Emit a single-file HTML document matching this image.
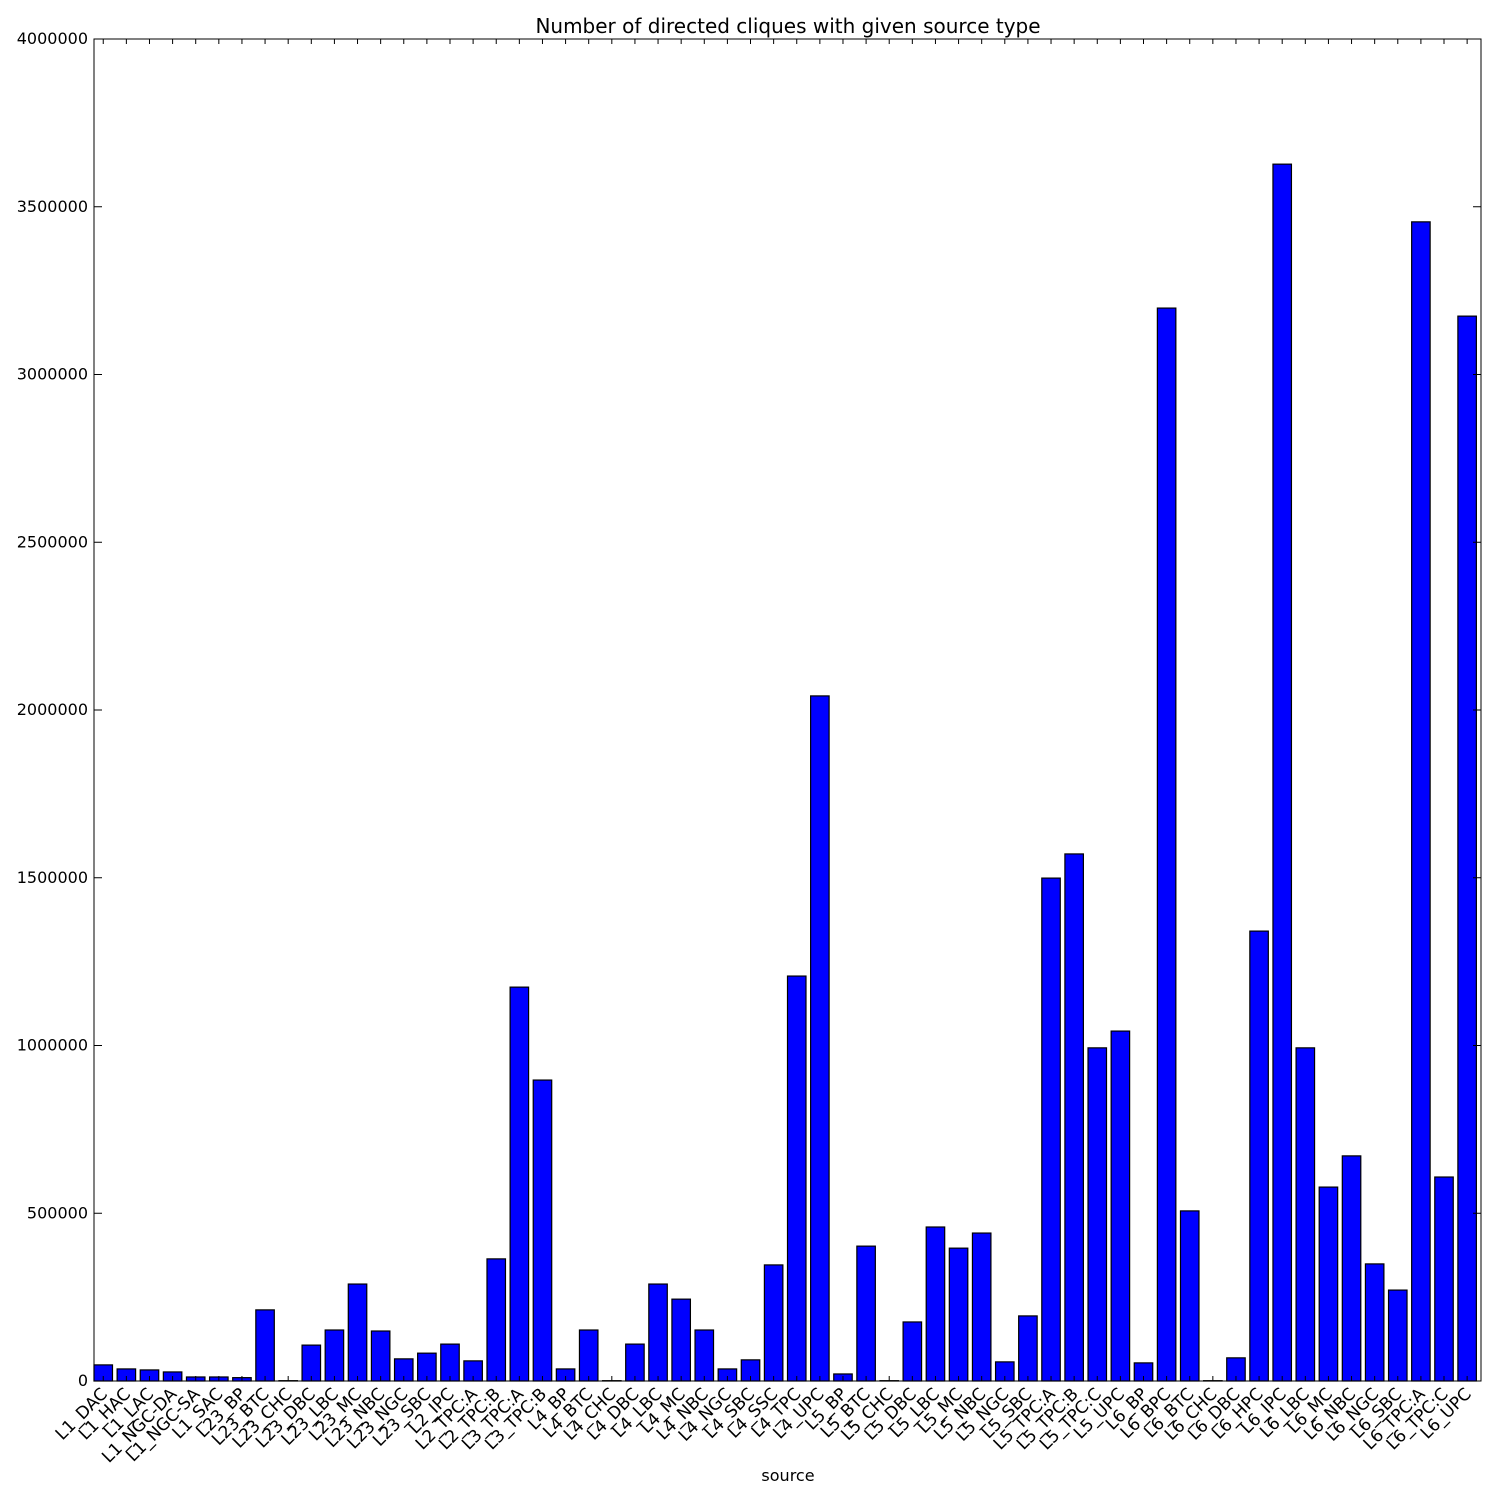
<!DOCTYPE html>
<html><head><meta charset="utf-8"><style>
html,body{margin:0;padding:0;background:#fff;}
svg text{font-family:"DejaVu Sans","Liberation Sans",sans-serif;}
</style></head><body>
<svg id="chart" width="1500" height="1500" xmlns="http://www.w3.org/2000/svg">
<rect width="1500" height="1500" fill="#fff"/>
<text x="788" y="33" font-size="20" text-anchor="middle">Number of directed cliques with given source type</text>
<text x="788" y="1481" font-size="16" text-anchor="middle">source</text>
<g id="bars"></g><g id="ticks"></g>
<rect x="94" y="39" width="1387" height="1342" fill="none" stroke="#000" stroke-width="1"/>
</svg>
<script>
const categories = ["L1_DAC","L1_HAC","L1_LAC","L1_NGC-DA","L1_NGC-SA","L1_SAC","L23_BP","L23_BTC","L23_CHC","L23_DBC","L23_LBC","L23_MC","L23_NBC","L23_NGC","L23_SBC","L2_IPC","L2_TPC:A","L2_TPC:B","L3_TPC:A","L3_TPC:B","L4_BP","L4_BTC","L4_CHC","L4_DBC","L4_LBC","L4_MC","L4_NBC","L4_NGC","L4_SBC","L4_SSC","L4_TPC","L4_UPC","L5_BP","L5_BTC","L5_CHC","L5_DBC","L5_LBC","L5_MC","L5_NBC","L5_NGC","L5_SBC","L5_TPC:A","L5_TPC:B","L5_TPC:C","L5_UPC","L6_BP","L6_BPC","L6_BTC","L6_CHC","L6_DBC","L6_HPC","L6_IPC","L6_LBC","L6_MC","L6_NBC","L6_NGC","L6_SBC","L6_TPC:A","L6_TPC:C","L6_UPC"];
const counts = [48000,36000,33000,27000,12000,12000,10000,212000,1000,107000,152000,289000,149000,66000,83000,110000,60000,364000,1174000,897000,36000,152000,1000,110000,289000,244000,152000,36000,63000,346000,1207000,2042000,21000,402000,1000,176000,459000,396000,441000,57000,194000,1499000,1571000,993000,1043000,54000,3198000,507000,1000,69000,1341000,3627000,993000,578000,671000,349000,271000,3455000,608000,3174000];
const yTicks = [0,500000,1000000,1500000,2000000,2500000,3000000,3500000,4000000];
const X0=94,X1=1481,Y0=1381,Y1=39;
const xScale = v => X0 + v*(X1-X0)/categories.length;
const yScale = v => Y0 - v*(Y0-Y1)/4000000;
const NS="http://www.w3.org/2000/svg";
const bars=document.getElementById('bars'), ticks=document.getElementById('ticks');
function mk(tag,attrs,parent){const e=document.createElementNS(NS,tag);for(const k in attrs)e.setAttribute(k,attrs[k]);parent.appendChild(e);return e;}
categories.forEach((c,i)=>{
  const x=xScale(i), w=xScale(i+0.8)-x, y=yScale(counts[i]);
  const r=mk('rect',{x:x,y:y,width:w,height:Y0-y,fill:'#0000ff',stroke:'#000','stroke-width':1.2},bars);
  
  
  const cx=xScale(i+0.4);
  mk('line',{x1:cx,x2:cx,y1:Y0,y2:Y0-5,stroke:'#000'},ticks);
  mk('line',{x1:cx,x2:cx,y1:Y1,y2:Y1+5,stroke:'#000'},ticks);
  const t=mk('text',{x:cx+5,y:Y0+14,'font-size':17,'text-anchor':'end',transform:`rotate(-45 ${cx+5} ${Y0+14})`},ticks);
  t.textContent=c;
  
  
});
yTicks.forEach(v=>{
  const y=yScale(v);
  mk('line',{x1:X0,x2:X0+8,y1:y,y2:y,stroke:'#000'},ticks);
  mk('line',{x1:X1,x2:X1-8,y1:y,y2:y,stroke:'#000'},ticks);
  const t=mk('text',{x:X0-6,y:y+5,'font-size':16,'text-anchor':'end'},ticks);
  t.textContent=String(v);
  
  
});
</script>
</body></html>
